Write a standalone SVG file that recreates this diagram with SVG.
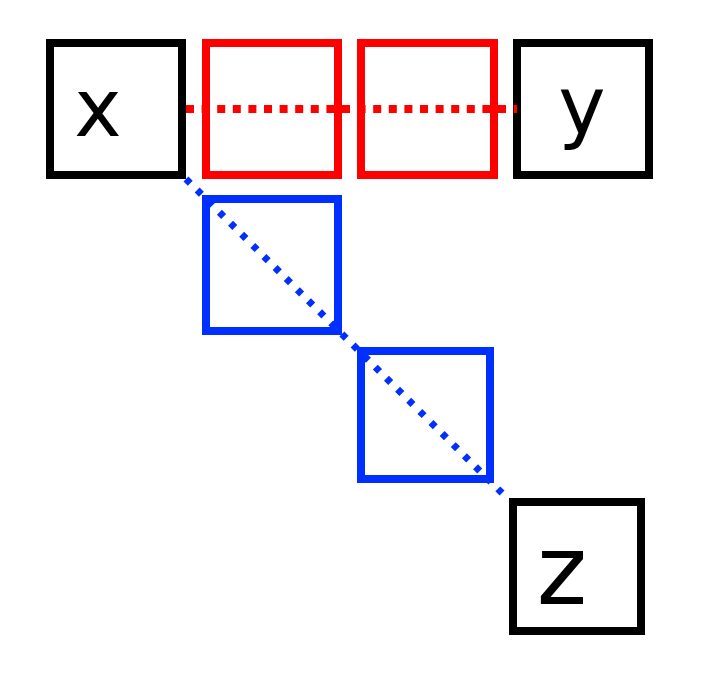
<svg xmlns="http://www.w3.org/2000/svg" width="727" height="677" viewBox="0 0 727 677">
<style>
.box{fill:none;stroke-width:8}
.blk{stroke:#000}
.red{stroke:#ff0000}
.blu{stroke:#0030ff}
.lbl{font-family:"DejaVu Sans",sans-serif;fill:#000;text-anchor:middle}
.dotr{fill:none;stroke:#ff0000;stroke-width:8;stroke-dasharray:8 7.6}
.dotb{fill:none;stroke:#0030ff;stroke-width:7;stroke-dasharray:6 9.7}
</style>
<rect width="727" height="677" fill="#fff"/>
<g id="node-x"><rect class="box blk" x="50" y="43" width="132" height="132"/><text class="lbl" x="98" y="136" font-size="80">x</text></g>
<g id="node-r1"><rect class="box red" x="206" y="43" width="132" height="132"/></g>
<g id="node-r2"><rect class="box red" x="361" y="43" width="133" height="132"/></g>
<g id="node-y"><rect class="box blk" x="517" y="43" width="132" height="132"/><text class="lbl" x="582" y="133" font-size="80">y</text></g>
<g id="node-b1"><rect class="box blu" x="206" y="199" width="132" height="132"/></g>
<g id="node-b2"><rect class="box blu" x="361" y="351" width="129" height="128"/></g>
<g id="node-z"><rect class="box blk" x="513" y="502" width="128" height="129"/><text class="lbl" x="562" y="604" font-size="96">z</text></g>
<g id="connectors">
<line class="dotr" x1="186" y1="109" x2="517" y2="109"/>
<line class="dotb" x1="186" y1="179" x2="509" y2="500"/>
</g>
</svg>
